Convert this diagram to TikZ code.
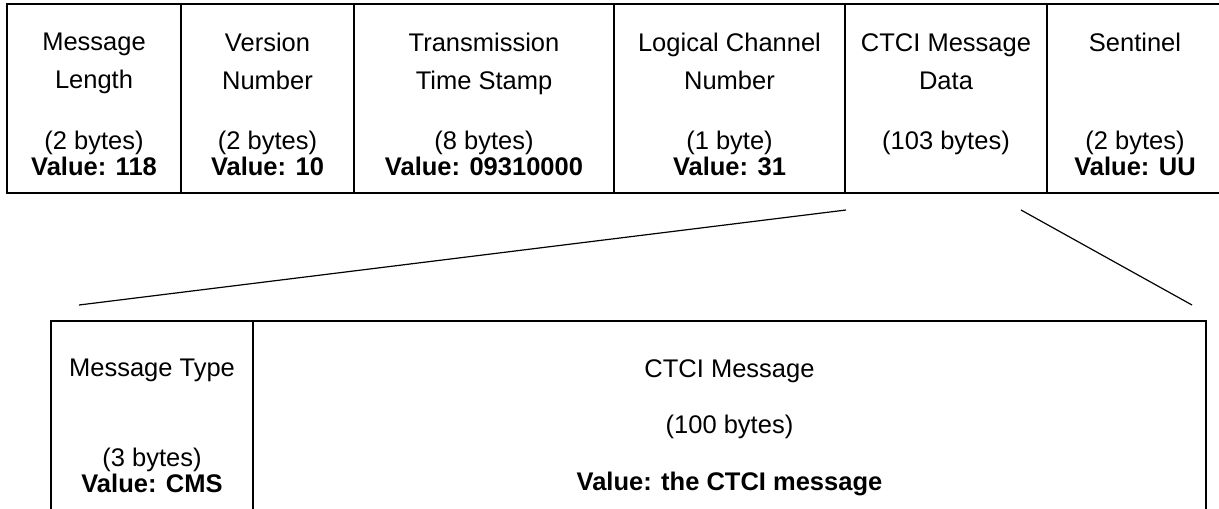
\documentclass[tikz,border=0pt]{standalone}
\usepackage{fontspec}
\setmainfont{Liberation Sans}
\tikzset{
	field/.style={draw, line width=1.6pt, inner sep=0pt, outer sep=0pt, anchor=north west, minimum height=189pt},
	slot/.style={field, minimum height=200pt},
	head/.style={anchor=north, inner sep=0pt, align=center, font=\fontsize{25.5}{38}\selectfont},
	foot/.style={anchor=south, inner sep=0pt, align=center, font=\fontsize{25.5}{26}\selectfont, execute at end node=\vphantom{(}},
	zoomline/.style={line width=1.2pt},
}

\begin{document}
\begin{tikzpicture}[x=1pt, y=-1pt]
		\useasboundingbox (0,0) rectangle (1219,509);
		\clip (0,0) rectangle (1219,509);
		
		%%%%% RECORD %%%%%
		
		\node[field, minimum width=174pt] (len) at (7,4) {};
		\node[field, minimum width=173pt] (ver) at (181,4) {};
		\node[field, minimum width=260pt] (stamp) at (354,4) {};
		\node[field, minimum width=231pt] (chan) at (614,4) {};
		\node[field, minimum width=202pt] (data) at (845,4) {};
		\node[field, minimum width=176pt] (sent) at (1047,4) {};
		
		\node[head] (lenhead) at ([yshift=-29pt]len.north) {Message\\Length};
		\node[foot] (lenfoot) at ([yshift=12pt]len.south) {(2 bytes)\\\textbf{Value: 118}};
		\node[head] (verhead) at ([yshift=-29pt]ver.north) {Version\\Number};
		\node[foot] (verfoot) at ([yshift=12pt]ver.south) {(2 bytes)\\\textbf{Value: 10}};
		\node[head] (stamphead) at ([yshift=-29pt]stamp.north) {Transmission\\Time Stamp};
		\node[foot] (stampfoot) at ([yshift=12pt]stamp.south) {(8 bytes)\\\textbf{Value: 09310000}};
		\node[head] (chanhead) at ([yshift=-29pt]chan.north) {Logical Channel\\Number};
		\node[foot] (chanfoot) at ([yshift=12pt]chan.south) {(1 byte)\\\textbf{Value: 31}};
		\node[head] (datahead) at ([yshift=-29pt]data.north) {CTCI Message\\Data};
		\node[foot] (datafoot) at ([yshift=12pt]data.south) {(103 bytes)\\\mbox{}};
		\node[head] (senthead) at ([yshift=-29pt]sent.north) {Sentinel};
		\node[foot] (sentfoot) at ([yshift=12pt]sent.south) {(2 bytes)\\\textbf{Value: UU}};
		
		%%%%% DATA FIELD %%%%%
		
		\node[slot, minimum width=202pt] (type) at (51,321) {};
		\node[slot, minimum width=953pt] (msg) at (253,321) {};
		
		\node[head] (typehead) at ([yshift=-38pt]type.north) {Message Type};
		\node[foot] (typefoot) at ([yshift=23pt]type.south) {(3 bytes)\\\textbf{Value: CMS}};
		\node[head, font=\fontsize{25.5}{56.5}\selectfont] (msghead) at ([yshift=-38pt]msg.north) {CTCI Message\\(100 bytes)\\\textbf{Value: the CTCI message}};
		
		\coordinate (dl) at (846,210);
		\coordinate (dr) at (1021,210);
		\coordinate (tl) at (79,305);
		\coordinate (tr) at (1192,305);
		\draw[zoomline] (dl) -- (tl);
		\draw[zoomline] (dr) -- (tr);
		
	\end{tikzpicture}
\end{document}
